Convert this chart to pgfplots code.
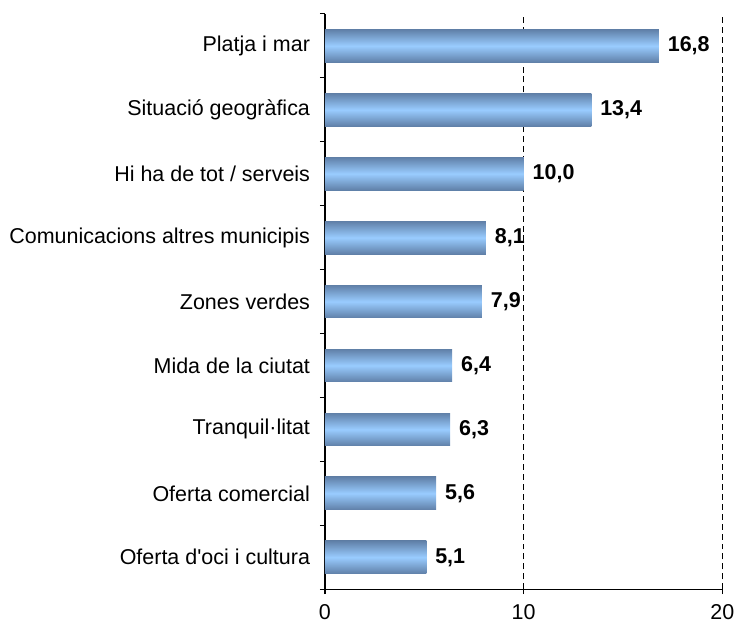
\documentclass[border=0pt]{standalone}
\usepackage{fontspec}
\setmainfont{Liberation Sans}
\usepackage{pgfplots}
\pgfplotsset{compat=1.18}
\definecolor{bardark}{RGB}{96,128,168}
\definecolor{barlight}{RGB}{153,204,255}
\begin{document}
\begin{tikzpicture}[font=\fontsize{10.8}{13}\selectfont]
\begin{axis}[
  scale only axis,
  width=200pt, height=289.5pt,
  xmin=0, xmax=20,
  ymin=-0.5, ymax=8.5,
  axis x line*=bottom, axis y line*=left,
  xtick={0,10,20},
  ytick={-0.5,0.5,...,8.5},
  yticklabels={},
  extra y ticks={0,...,8},
  extra y tick labels={Oferta d\textquotesingle oci i cultura, Oferta comercial, Tranquil·litat, Mida de la ciutat, Zones verdes, Comunicacions altres municipis, Hi ha de tot / serveis, Situació geogràfica, Platja i mar},
  extra y tick style={major tick length=0pt, yticklabel style={xshift=-4pt}},
  tick align=outside,
  major tick length=2.5pt,
  xticklabel style={yshift=-1.5pt},
  xmajorgrids,
  grid style={black, dash pattern=on 3pt off 2pt, line width=0.5pt},
  axis line style={black, line width=0.6pt},
  tick style={black, line width=0.6pt},
  /pgf/number format/assume math mode=true,
  xbar, bar width=16.5pt, bar shift=0pt,
  nodes near coords,
  nodes near coords style={font=\fontsize{10.8}{13}\selectfont\bfseries, black, xshift=1pt,
    /pgf/number format/.cd, fixed, fixed zerofill, precision=1, use comma},
  every axis plot/.append style={draw=none, top color=bardark, bottom color=bardark, middle color=barlight},
  clip=false,
]
\addplot coordinates {(5.1,0)};
\addplot coordinates {(5.6,1)};
\addplot coordinates {(6.3,2)};
\addplot coordinates {(6.4,3)};
\addplot coordinates {(7.9,4)};
\addplot coordinates {(8.1,5)};
\addplot coordinates {(10.0,6)};
\addplot coordinates {(13.4,7)};
\addplot coordinates {(16.8,8)};
\end{axis}
\path ([xshift=-163.5pt, yshift=-21pt]current axis.south west) rectangle ([xshift=7pt, yshift=7pt]current axis.north east);
\end{tikzpicture}
\end{document}
